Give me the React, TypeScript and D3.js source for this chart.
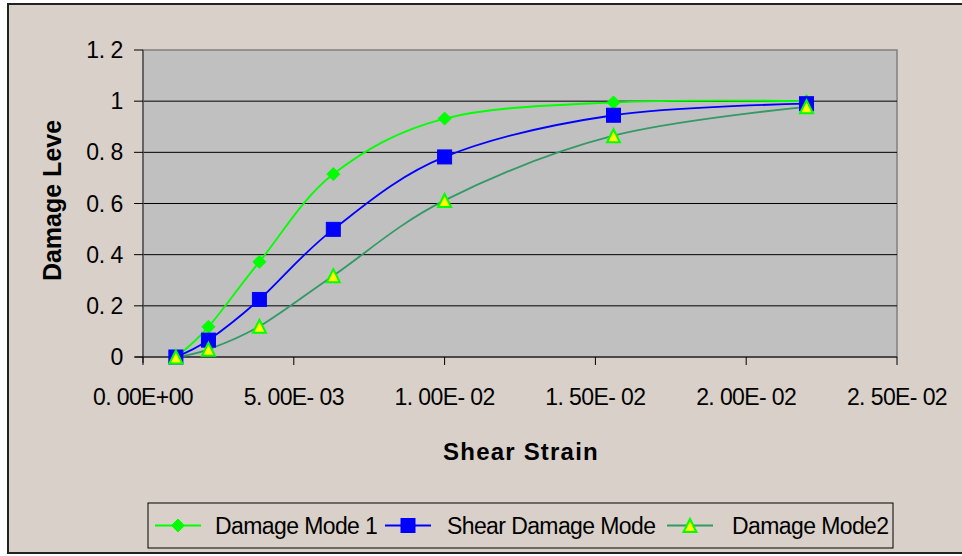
import React from "react";
import * as d3 from "d3";

const strain = [1.09e-3, 2.17e-3, 3.86e-3, 6.31e-3, 1.0e-2, 1.56e-2, 2.2e-2];
const mode1 = [0, 0.118, 0.372, 0.715, 0.932, 0.995, 1.0];
const shear = [0, 0.066, 0.225, 0.499, 0.782, 0.945, 0.99];
const mode2 = [0, 0.03, 0.12, 0.318, 0.612, 0.865, 0.978];

const yTicks = [0, 0.2, 0.4, 0.6, 0.8, 1, 1.2];
const yTickLabels = ["0", "0. 2", "0. 4", "0. 6", "0. 8", "1", "1. 2"];
const xTicks = [0, 0.005, 0.01, 0.015, 0.02, 0.025];
const xTickLabels = ["0. 00E+00", "5. 00E- 03", "1. 00E- 02", "1. 50E- 02", "2. 00E- 02", "2. 50E- 02"];

const seriesNames = ["Damage Mode 1", "Shear Damage Mode", "Damage Mode2"];

const W = 962;
const H = 556;
const plot = { left: 143, right: 897, top: 50, bottom: 357 };

const FONT = "'Liberation Sans', Arial, sans-serif";

function Marker({ kind, x, y }: { kind: string; x: number; y: number }) {
  if (kind === "diamond") {
    const s = 6.5;
    return (
      <path
        d={`M${x},${y - s}L${x + s},${y}L${x},${y + s}L${x - s},${y}Z`}
        fill="#00FF00"
        stroke="#00FF00"
        strokeWidth={1}
      />
    );
  }
  if (kind === "square") {
    const s = 7;
    return <rect x={x - s} y={y - s} width={2 * s} height={2 * s} fill="#0000FF" stroke="#0000FF" strokeWidth={1} />;
  }
  const s = 6.5;
  return (
    <path
      d={`M${x},${y - s}L${x + s},${y + s}L${x - s},${y + s}Z`}
      fill="#FFFF00"
      stroke="#00FF00"
      strokeWidth={2}
      strokeLinejoin="miter"
    />
  );
}

export default function App() {
  const x = d3.scaleLinear().domain([0, 0.025]).range([plot.left, plot.right]);
  const y = d3.scaleLinear().domain([0, 1.2]).range([plot.bottom, plot.top]);

  const series = [
    { name: seriesNames[0], values: mode1, color: "#00FF00", marker: "diamond" },
    { name: seriesNames[1], values: shear, color: "#0000FF", marker: "square" },
    { name: seriesNames[2], values: mode2, color: "#339966", marker: "triangle" },
  ];

  const line = d3
    .line<[number, number]>()
    .x((d) => x(d[0]))
    .y((d) => y(d[1]))
    .curve(d3.curveCardinal.tension(0));

  const legendItems = [
    { lx: 155, tx: 215 },
    { lx: 385, tx: 447 },
    { lx: 667, tx: 732 },
  ];
  const legendY = 525.5;

  return (
    <svg
      width={W}
      height={H}
      style={{ position: "absolute", left: 0, top: 0, background: "#ffffff" }}
      fontFamily={FONT}
    >
      <rect x={8} y={4} width={980} height={549} fill="#D8D0C9" stroke="#222" strokeWidth={2} />

      {/* plot area */}
      <rect
        x={plot.left}
        y={plot.top}
        width={plot.right - plot.left}
        height={plot.bottom - plot.top}
        fill="#C0C0C0"
        stroke="#808080"
        strokeWidth={1.5}
      />
      {yTicks
        .filter((t) => t > 0 && t < 1.2)
        .map((t) => (
          <line key={t} x1={plot.left} x2={plot.right} y1={y(t)} y2={y(t)} stroke="#000" strokeWidth={1} />
        ))}

      {/* axes */}
      <line x1={plot.left} x2={plot.left} y1={plot.top} y2={plot.bottom + 6} stroke="#555" strokeWidth={1.5} />
      <line x1={plot.left - 8} x2={plot.right} y1={plot.bottom} y2={plot.bottom} stroke="#000" strokeWidth={1} />
      {yTicks.map((t, i) => (
        <g key={t}>
          <line x1={plot.left - 9} x2={plot.left} y1={y(t)} y2={y(t)} stroke="#000" strokeWidth={1} />
          <text x={123} y={y(t)} dy="0.35em" textAnchor="end" fontSize={23} letterSpacing={-0.4} fill="#000">
            {yTickLabels[i]}
          </text>
        </g>
      ))}
      {xTicks.map((t, i) => (
        <g key={t}>
          <line x1={x(t)} x2={x(t)} y1={plot.bottom} y2={plot.bottom + 8} stroke="#000" strokeWidth={1} />
          <text x={x(t)} y={405} textAnchor="middle" fontSize={23} letterSpacing={-0.6} fill="#000">
            {xTickLabels[i]}
          </text>
        </g>
      ))}

      {/* axis titles */}
      <text
        transform={`translate(61,${(plot.top + plot.bottom) / 2 - 3}) rotate(-90)`}
        textAnchor="middle"
        fontSize={25}
        fontWeight="bold"
        fill="#000"
      >
        Damage Leve
      </text>
      <text x={521} y={460} textAnchor="middle" fontSize={24} fontWeight="bold" letterSpacing={1.2} fill="#000">
        Shear Strain
      </text>

      {/* series */}
      {series.map((s) => {
        const pts: [number, number][] = strain.map((v, i) => [v, s.values[i]]);
        return (
          <g key={s.name}>
            <path d={line(pts) || ""} fill="none" stroke={s.color} strokeWidth={1.8} />
          </g>
        );
      })}
      {series.map((s) => (
        <g key={s.name + "m"}>
          {strain.map((v, i) => (
            <Marker key={i} kind={s.marker} x={x(v)} y={y(s.values[i])} />
          ))}
        </g>
      ))}

      {/* legend */}
      <rect x={148} y={503} width={745} height={45} fill="#D8D0C9" stroke="#000" strokeWidth={1} />
      {series.map((s, i) => {
        const it = legendItems[i];
        return (
          <g key={s.name + "l"}>
            <line x1={it.lx} x2={it.lx + 46} y1={legendY} y2={legendY} stroke={s.color} strokeWidth={1.8} />
            <Marker kind={s.marker} x={it.lx + 23} y={legendY} />
            <text x={it.tx} y={legendY} dy="0.35em" fontSize={23} letterSpacing={-0.6} fill="#000">
              {s.name}
            </text>
          </g>
        );
      })}
    </svg>
  );
}
